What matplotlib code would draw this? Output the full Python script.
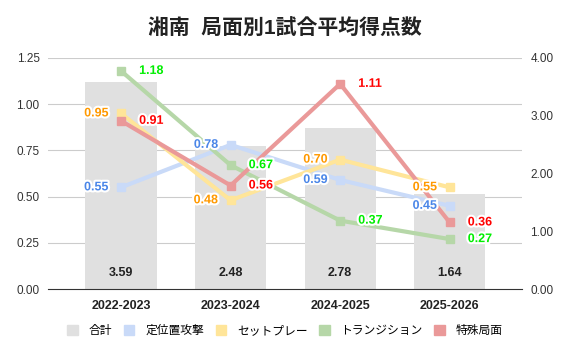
import matplotlib.pyplot as plt
import matplotlib.patheffects as pe
import numpy as np

plt.rcParams['font.family'] = ['Liberation Sans', 'Noto Sans CJK JP', 'DejaVu Sans']

seasons = ["2022-2023", "2023-2024", "2024-2025", "2025-2026"]
total = [3.59, 2.48, 2.78, 1.64]
set_attack = [0.55, 0.78, 0.59, 0.45]      # 定位置攻撃
set_piece = [0.95, 0.48, 0.70, 0.55]       # セットプレー
transition = [1.18, 0.67, 0.37, 0.27]      # トランジション
special = [0.91, 0.56, 1.11, 0.36]         # 特殊局面
left_ticks = [0.00, 0.25, 0.50, 0.75, 1.00, 1.25]
right_ticks = [0.00, 1.00, 2.00, 3.00, 4.00]

x = np.arange(len(seasons))

fig = plt.figure(figsize=(5.7, 3.53), dpi=100)
ax_bar = fig.add_axes([48 / 570, 1 - 289 / 353, 474 / 570, 231 / 353])
ax_line = ax_bar.twinx()

# gridlines follow the left (line) axis
for t in left_ticks[1:]:
    ax_bar.axhline(t * 4 / 1.25, color="#cccccc", lw=0.8, zorder=0)

ax_bar.bar(x, total, width=0.65, color="#e0e0e0", zorder=1)
for xi, v in zip(x, total):
    ax_bar.text(xi, 0.28, f"{v:.2f}", ha="center", va="center",
                fontsize=9, fontweight="bold", color="#222222")

ax_bar.set_ylim(0, 4)
ax_bar.set_xlim(-0.667, 3.66)
ax_bar.yaxis.tick_right()
ax_bar.set_yticks(right_ticks)
ax_bar.set_yticklabels([f"{t:.2f}" for t in right_ticks])
ax_bar.set_xticks(x)
ax_bar.set_xticklabels(seasons, fontweight="bold")

series = [
    ("定位置攻撃", set_attack, "#c9daf8", "#4a86e8", "left"),
    ("セットプレー", set_piece, "#ffe599", "#ff9900", "left"),
    ("トランジション", transition, "#b6d7a8", "#00ee00", "right"),
    ("特殊局面", special, "#ea9999", "#ff0000", "right"),
]
halo = [pe.withStroke(linewidth=3, foreground="white")]
for name, vals, lc, tc, side in series:
    ax_line.plot(x, vals, color=lc, lw=3, marker="s", markersize=6, zorder=3)
    for xi, v in zip(x, vals):
        if side == "left":
            ax_line.annotate(f"{v:.2f}", (xi, v), xytext=(-9, 0),
                             textcoords="offset points", ha="right", va="center",
                             fontsize=9, fontweight="bold", color=tc,
                             path_effects=halo, zorder=5)
        else:
            ax_line.annotate(f"{v:.2f}", (xi, v), xytext=(13, 0),
                             textcoords="offset points", ha="left", va="center",
                             fontsize=9, fontweight="bold", color=tc,
                             path_effects=halo, zorder=5)

ax_line.set_ylim(0, 1.25)
ax_line.yaxis.tick_left()
ax_line.set_yticks(left_ticks)
ax_line.set_yticklabels([f"{t:.2f}" for t in left_ticks])

for a in (ax_bar, ax_line):
    for s in ["top", "left", "right"]:
        a.spines[s].set_visible(False)
    a.tick_params(axis="both", length=0, labelsize=8.5, colors="#333333", pad=6)
ax_bar.spines["bottom"].set_color("#333333")
ax_line.spines["bottom"].set_visible(False)
ax_bar.tick_params(axis="x", labelsize=9, colors="#222222", pad=8)

fig.suptitle("湘南  局面別1試合平均得点数", fontsize=15, fontweight="bold",
             x=0.5, y=0.95, color="#222222")

handles = [plt.Rectangle((0, 0), 1, 1, color="#e0e0e0")]
labels = ["合計"]
for name, vals, lc, tc, side in series:
    handles.append(plt.Rectangle((0, 0), 1, 1, color=lc))
    labels.append(name)
fig.legend(handles, labels, loc="center", bbox_to_anchor=(0.5, 1 - 331 / 353),
           ncol=5, frameon=False, fontsize=8.5, handlelength=0.9, handleheight=0.9,
           columnspacing=1.0, handletextpad=0.9)

fig.savefig("out.png", dpi=100)
